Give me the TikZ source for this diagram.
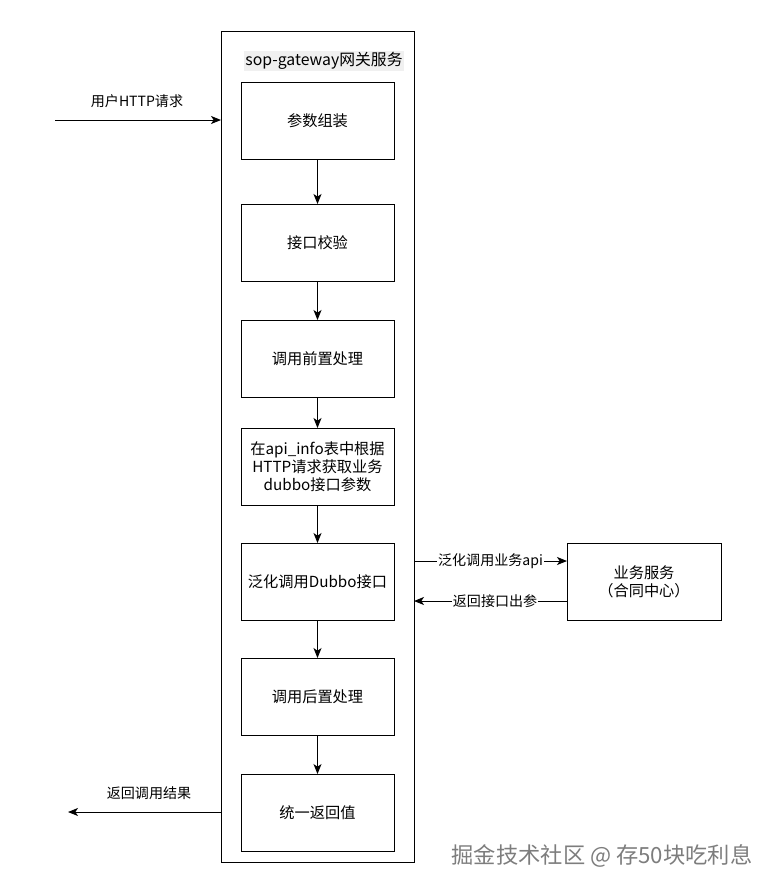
\documentclass[tikz,border=0pt]{standalone}
\usepackage{fontspec}
\setmainfont{Noto Sans CJK SC}
\usetikzlibrary{arrows.meta,positioning}
\definecolor{titlepale}{RGB}{240,240,240}
\definecolor{markgray}{RGB}{125,125,125}

\begin{document}
\begin{tikzpicture}[x=0.03cm,y=-0.03cm,>={Stealth[length=0.3cm,width=0.24cm,inset=0.08cm]},
    every node/.style={align=center,font=\fontsize{13pt}{15.5pt}\selectfont},
    stepbox/.style={draw,line width=0.8pt,minimum width=4.59cm,minimum height=2.31cm,inner sep=0pt,outer sep=0pt},
    flow/.style={->,line width=0.8pt},
    lbl/.style={fill=white,inner sep=1pt,font=\fontsize{12pt}{14pt}\selectfont}]
  \useasboundingbox (0,0) rectangle (777,892);
  % gateway container
  \node[draw,line width=0.8pt,minimum width=5.79cm,minimum height=24.93cm,inner sep=0pt,outer sep=0pt] (gw) at (317.5,446.5) {};
  \node[fill=titlepale,inner sep=1pt,font=\fontsize{13.5pt}{16pt}\selectfont] (title) at (324,61) {sop-gateway网关服务};
  % steps
  \node[stepbox] (assemble) at (317.5,120.5) {参数组装};
  \node[stepbox,below=1.35cm of assemble] (check) {接口校验};
  \node[stepbox,below=1.17cm of check] (pre) {调用前置处理};
  \node[stepbox,below=0.93cm of pre] (lookup) {在api\_info表中根据\\HTTP请求获取业务\\dubbo接口参数};
  \node[stepbox,below=1.14cm of lookup] (generic) {泛化调用Dubbo接口};
  \node[stepbox,below=1.14cm of generic] (post) {调用后置处理};
  \node[stepbox,below=1.17cm of post] (result) {统一返回值};
  \draw[flow] (assemble) -- (check);
  \draw[flow] (check) -- (pre);
  \draw[flow] (pre) -- (lookup);
  \draw[flow] (lookup) -- (generic);
  \draw[flow] (generic) -- (post);
  \draw[flow] (post) -- (result);
  % business service
  \node[draw,line width=0.8pt,minimum width=4.62cm,minimum height=2.31cm,inner sep=0pt,outer sep=0pt] (svc) at (644,581.5) {业务服务\\（合同中心）};
  % request in / result out
  \coordinate (req) at (55,120);
  \coordinate (out) at (68,812);
  \draw[flow] (req) -- (req -| gw.west);
  \node[font=\fontsize{12pt}{14pt}\selectfont] (reqlbl) at (137,101) {用户HTTP请求};
  \draw[flow] (out -| gw.west) -- (out);
  \node[font=\fontsize{12pt}{14pt}\selectfont] (outlbl) at (149,793) {返回调用结果};
  % calls to the business service
  \coordinate (callrow) at (0,561);
  \coordinate (backrow) at (0,601);
  \draw[flow] (callrow -| gw.east) -- node[lbl,pos=0.5] {泛化调用业务api} (callrow -| svc.west);
  \draw[flow] (backrow -| svc.west) -- node[lbl,pos=0.47] {返回接口出参} (backrow -| gw.east);
  % watermark
  \node[text=markgray,font=\fontsize{19pt}{21pt}\selectfont] (mark) at (602,856) {掘金技术社区 @ 存50块吃利息};
\end{tikzpicture}
\end{document}
